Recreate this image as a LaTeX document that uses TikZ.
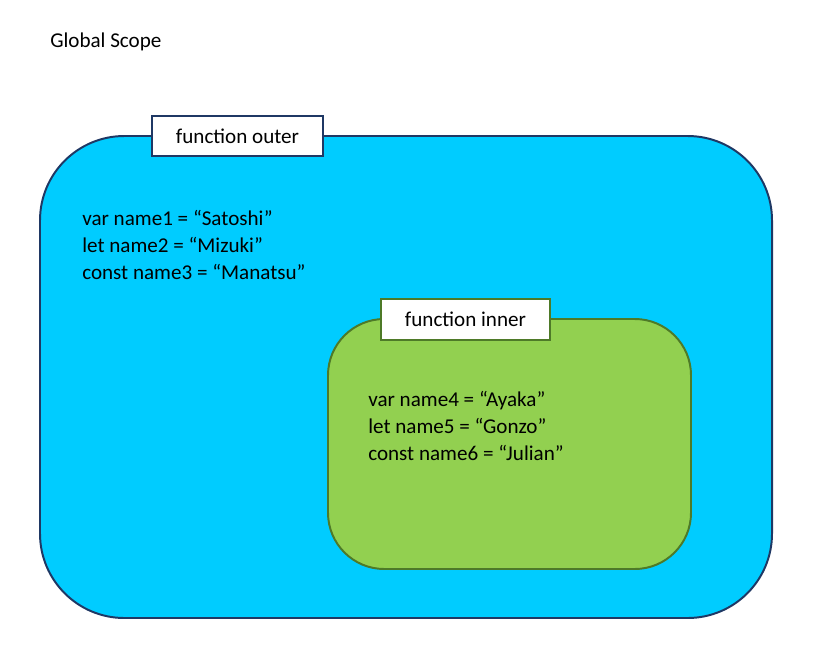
\documentclass[tikz,border=0pt]{standalone}
\usepackage{fontspec}
\setmainfont{Carlito}
\definecolor{outerfill}{HTML}{00CCFF}
\definecolor{outerline}{HTML}{1F3864}
\definecolor{innerfill}{HTML}{92D050}
\definecolor{innerline}{HTML}{4E7A28}
\begin{document}
\begin{tikzpicture}[x=0.025cm,y=-0.025cm,
    txt/.style={font=\fontsize{15}{19.5}\selectfont,anchor=west,align=left,inner sep=0pt},
    tag/.style={draw=#1,fill=white,line width=1.4pt,font=\fontsize{15}{18}\selectfont,inner sep=0pt},
    scope box/.style={line width=1.4pt}]
    \useasboundingbox (0,0) rectangle (819,665);
    \node[txt] (global) at (50,42) {Global Scope};
    % outer function
    \draw[scope box,draw=outerline,fill=outerfill,rounded corners=60] (40,136) rectangle (772,618);
    \node[tag=outerline,minimum width=171*0.025cm,minimum height=40*0.025cm] (outer) at (237.5,136) {function outer};
    \node[txt] (outervars) at (82,245) {var name1 = “Satoshi”\\let name2 = “Mizuki”\\const name3 = “Manatsu”};
    % inner function
    \draw[scope box,draw=innerline,fill=innerfill,rounded corners=40] (328,319) rectangle (691,569);
    \node[tag=innerline,minimum width=169*0.025cm,minimum height=41*0.025cm] (inner) at (465.5,319.5) {function inner};
    \node[txt] (innervars) at (368,426) {var name4 = “Ayaka”\\let name5 = “Gonzo”\\const name6 = “Julian”};
\end{tikzpicture}
\end{document}
